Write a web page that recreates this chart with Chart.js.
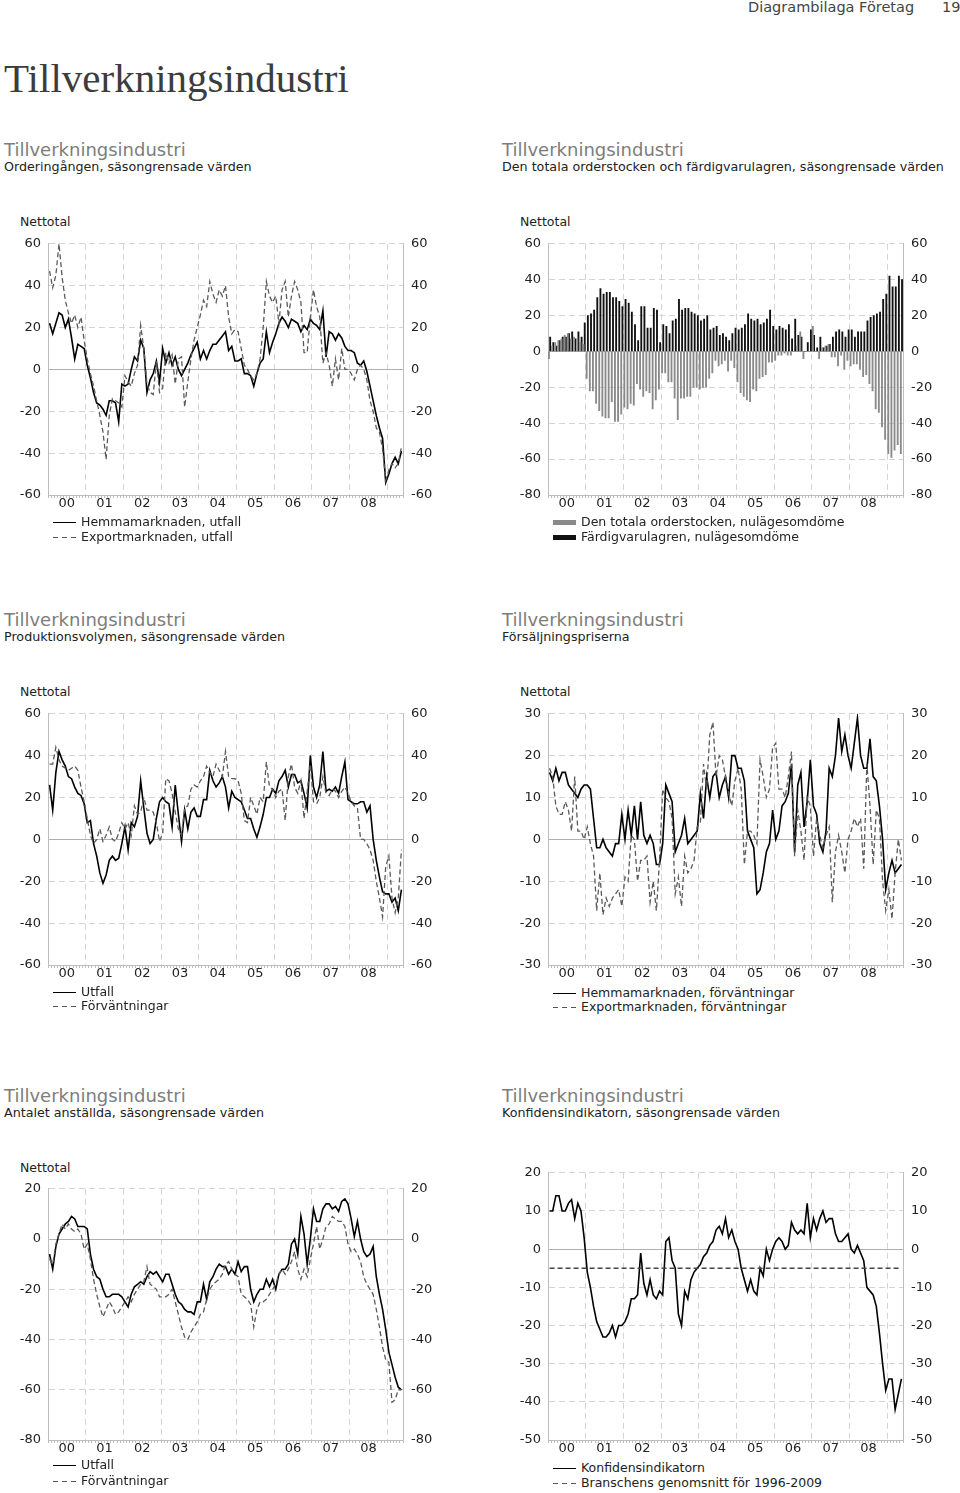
<!DOCTYPE html>
<html lang="sv">
<head>
<meta charset="utf-8">
<title>Tillverkningsindustri</title>
<script src="https://cdn.jsdelivr.net/npm/chart.js@4.4.1/dist/chart.umd.min.js"></script>
<style>
  body { margin: 0; background: #fff; font-family: 'DejaVu Sans', Verdana, sans-serif; color: #222; }
  .page { position: relative; width: 960px; height: 1493px; overflow: hidden; }
  .t { position: absolute; white-space: nowrap; line-height: 1; }
  .head { font-size: 14.5px; color: #444; }
  .title { font-family: 'Liberation Serif', 'Times New Roman', serif; font-size: 41px; color: #3c3c3c; }
  .sub { font-size: 18px; color: #7d7d7d; }
  .desc { font-size: 12.7px; color: #222; }
  .unit { font-size: 12.5px; color: #222; }
  canvas { position: absolute; }
  .leg { position: absolute; font-size: 12.5px; line-height: 1; white-space: nowrap; color: #222; }
  .leg i { display: inline-block; width: 23px; vertical-align: middle; margin-right: 5px; }
  .solid { height: 0; border-top: 1.6px solid #000; }
  .dash { height: 1.4px; background: repeating-linear-gradient(90deg, #555 0 5px, transparent 5px 9px); }
  .box-gray { height: 5px; background: #8a8a8a; }
  .box-black { height: 5px; background: #111; }
</style>
</head>
<body>
<div class="page">
  <div class="t head" style="left:748px; top:0px">Diagrambilaga Företag</div>
  <div class="t head" style="left:942px; top:0px">19</div>
  <div class="t title" style="left:4px; top:58px">Tillverkningsindustri</div>

  <!-- rad 1 -->
  <div class="t sub" style="left:4px; top:141px">Tillverkningsindustri</div>
  <div class="t desc" style="left:4px; top:161px">Orderingången, säsongrensade värden</div>
  <div class="t sub" style="left:502px; top:141px">Tillverkningsindustri</div>
  <div class="t desc" style="left:502px; top:161px">Den totala orderstocken och färdigvarulagren, säsongrensade värden</div>
  <div class="t unit" style="left:20px; top:216px">Nettotal</div>
  <div class="t unit" style="left:520px; top:216px">Nettotal</div>
  <canvas id="chart-order" width="460" height="287" style="left:0px; top:228px"></canvas>
  <canvas id="chart-lager" width="460" height="287" style="left:500px; top:228px"></canvas>
  <div class="leg" style="left:53px; top:516px"><i class="solid"></i>Hemmamarknaden, utfall</div>
  <div class="leg" style="left:53px; top:531px"><i class="dash"></i>Exportmarknaden, utfall</div>
  <div class="leg" style="left:553px; top:516px"><i class="box-gray"></i>Den totala orderstocken, nulägesomdöme</div>
  <div class="leg" style="left:553px; top:531px"><i class="box-black"></i>Färdigvarulagren, nulägesomdöme</div>

  <!-- rad 2 -->
  <div class="t sub" style="left:4px; top:611px">Tillverkningsindustri</div>
  <div class="t desc" style="left:4px; top:631px">Produktionsvolymen, säsongrensade värden</div>
  <div class="t sub" style="left:502px; top:611px">Tillverkningsindustri</div>
  <div class="t desc" style="left:502px; top:631px">Försäljningspriserna</div>
  <div class="t unit" style="left:20px; top:686px">Nettotal</div>
  <div class="t unit" style="left:520px; top:686px">Nettotal</div>
  <canvas id="chart-prod" width="460" height="287" style="left:0px; top:698px"></canvas>
  <canvas id="chart-pris" width="460" height="287" style="left:500px; top:698px"></canvas>
  <div class="leg" style="left:53px; top:986px"><i class="solid"></i>Utfall</div>
  <div class="leg" style="left:53px; top:1000px"><i class="dash"></i>Förväntningar</div>
  <div class="leg" style="left:553px; top:987px"><i class="solid"></i>Hemmamarknaden, förväntningar</div>
  <div class="leg" style="left:553px; top:1001px"><i class="dash"></i>Exportmarknaden, förväntningar</div>

  <!-- rad 3 -->
  <div class="t sub" style="left:4px; top:1087px">Tillverkningsindustri</div>
  <div class="t desc" style="left:4px; top:1107px">Antalet anställda, säsongrensade värden</div>
  <div class="t sub" style="left:502px; top:1087px">Tillverkningsindustri</div>
  <div class="t desc" style="left:502px; top:1107px">Konfidensindikatorn, säsongrensade värden</div>
  <div class="t unit" style="left:20px; top:1162px">Nettotal</div>
  <canvas id="chart-anst" width="460" height="287" style="left:0px; top:1173px"></canvas>
  <canvas id="chart-konf" width="460" height="303" style="left:500px; top:1157px"></canvas>
  <div class="leg" style="left:53px; top:1459px"><i class="solid"></i>Utfall</div>
  <div class="leg" style="left:53px; top:1475px"><i class="dash"></i>Förväntningar</div>
  <div class="leg" style="left:553px; top:1462px"><i class="solid"></i>Konfidensindikatorn</div>
  <div class="leg" style="left:553px; top:1477px"><i class="dash"></i>Branschens genomsnitt för 1996-2009</div>
</div>

<script>
// månadsdata jan 2000 - maj 2009
const yearLabels = ['00', '01', '02', '03', '04', '05', '06', '07', '08'];
const months = Array.from({ length: 113 }, (_, i) => i);

// Orderingången
const orderHemma = [
  22, 17, 22, 27, 26, 20, 24, 15, 5, 12, 11, 10,
  2, -4, -11, -16, -17, -19, -22, -15, -15, -16, -25, -7,
  -8, -7, 0, 6, 4, 14, 10, -11, -5, -2, 4, -6,
  10, 3, 8, 2, 6, 0, -3, 0, 3, 7, 10, 13,
  5, 9, 5, 9, 12, 12, 14, 16, 18, 9, 11, 4,
  4, 5, -2, -2, -3, -8, -2, 3, 5, 18, 8, 13,
  17, 22, 25, 23, 20, 24, 23, 22, 18, 21, 19, 24,
  22, 21, 19, 28, 6, 18, 17, 14, 17, 15, 11, 9,
  9, 8, 3, 2, 4, -1, -8, -15, -22, -28, -33, -54,
  -50, -45, -42, -45, -39,
];
const orderExport = [
  47, 39, 45, 60, 44, 33, 27, 22, 26, 20, 25, 14,
  5, -2, -8, -15, -22, -30, -43, -22, -14, -15, -16, -18,
  -3, -6, -8, -2, 2, 21, 10, -7, -11, -12, 4, -11,
  -9, 8, 3, 7, -7, 5, 6, -18, -6, 5, 14, 20,
  26, 33, 30, 42, 36, 32, 38, 35, 40, 25, 17, 19,
  18, 10, 2, 0, -3, -5, -2, 5, 20, 42, 35, 32,
  35, 22, 38, 42, 25, 35, 42, 38, 32, 8, 8, 25,
  38, 30, 25, 3, 8, 2, -8, 5, -5, 10, 0, 0,
  -2, -5, 0, 2, 0, -5, -15, -20, -28, -30, -38, -53,
  -48, -45, -47, -45, -37,
];

// Orderstock och färdigvarulager
const orderstocken = [
  -4, 3, 5, 6, 7, 9, 10, 7, 8, 7, 5, 4,
  -15, -22, -22, -29, -33, -36, -37, -37, -28, -39, -39, -35,
  -31, -32, -29, -30, -18, -21, -25, -22, -23, -32, -27, -21,
  -12, -12, -17, -17, -26, -38, -26, -26, -25, -25, -20, -20,
  -21, -20, -20, -15, -12, -5, -8, -7, -5, -11, -5, -9,
  -17, -23, -25, -27, -28, -21, -22, -15, -14, -13, -6, -6,
  -5, -2, -2, -1, -2, -2, 0, 3, 11, -4, 0, 0,
  14, 0, -4, 2, 3, 4, -3, -3, -8, -2, -10, -5,
  -8, -7, -7, -10, -14, -13, -18, -22, -32, -34, -42, -49,
  -57, -59, -55, -52, -57,
];
const fardigvarulager = [
  8, 5, 3, 6, 8, 8, 10, 11, 7, 11, 8, 16,
  20, 21, 23, 30, 35, 32, 33, 33, 30, 30, 28, 25,
  29, 27, 22, 15, 6, 25, 25, 13, 13, 24, 23, 5,
  15, 14, 10, 17, 18, 29, 23, 24, 24, 22, 21, 20,
  17, 18, 20, 12, 13, 14, 9, 10, 8, 6, 10, 13,
  12, 13, 15, 21, 18, 17, 18, 15, 16, 18, 23, 14,
  12, 14, 13, 12, 15, 7, 18, 9, 8, 0, 5, 12,
  9, 2, 8, 2, 3, 4, 8, 11, 12, 11, 8, 12,
  12, 8, 11, 11, 11, 17, 19, 20, 21, 22, 29, 32,
  42, 36, 36, 42, 40,
];

// Produktionsvolymen
const prodUtfall = [
  26, 14, 32, 42, 38, 35, 30, 29, 25, 22, 21, 17,
  8, 9, -2, -8, -16, -21, -17, -10, -8, -10, -9, -2,
  6, -5, 8, 6, 11, 28, 15, 3, -2, 0, 10, 18,
  20, 18, 17, 6, 26, 12, -1, 14, 5, 13, 15, 11,
  11, 19, 19, 33, 28, 25, 27, 30, 25, 15, 23, 20,
  19, 18, 14, 10, 10, 5, 1, 6, 12, 20, 20, 24,
  22, 28, 30, 33, 25, 31, 31, 27, 28, 22, 15, 40,
  25, 20, 26, 42, 23, 24, 23, 25, 22, 30, 37, 19,
  18, 17, 17, 18, 18, 13, 16, 0, -10, -18, -25, -26,
  -26, -30, -28, -34, -24,
];
const prodForv = [
  36, 36, 44, 38, 35, 34, 33, 34, 35, 33, 25, 18,
  10, 2, -2, 0, 5, -1, 2, 6, 0, -1, 3, 8,
  5, 8, 2, 16, 12, 13, 20, 14, 14, 13, 8, -1,
  3, 29, 28, 22, 13, 5, 2, 15, 16, 24, 26, 25,
  28, 30, 35, 32, 30, 36, 33, 30, 42, 30, 29, 29,
  28, 22, 9, 8, 20, 16, 12, 20, 18, 37, 25, 24,
  20, 23, 24, 9, 30, 36, 25, 22, 28, 10, 23, 36,
  18, 17, 20, 30, 22, 21, 24, 23, 20, 23, 25, 22,
  18, 16, 15, 0, 0, -2, -5, -10, -20, -28, -37, -13,
  -8, -28, -35, -28, -5,
];

// Försäljningspriserna
const prisHemma = [
  16, 14, 17, 14, 16, 16, 13, 12, 11, 10, 12, 13,
  13, 12, 5, -2, -2, 0, -2, -3, -4, -1, -1, 6,
  0, 7, 1, 8, 0, 9, 1, -1, 1, -1, -6, -6,
  -1, 13, 11, 9, -3, -1, 1, 5, -1, 0, 1, 2,
  11, 5, 15, 10, 15, 16, 10, 13, 15, 10, 20, 20,
  17, 17, 14, 2, 0, -2, -13, -12, -8, -3, -1, 7,
  0, 2, 8, 9, 11, 18, -3, 13, 16, 3, 9, 19,
  8, 6, -1, -3, 2, 17, 15, 20, 29, 21, 25, 20,
  17, 23, 29, 20, 17, 17, 24, 15, 14, 8, 0, -12,
  -8, -5, -8, -7, -6,
];
const prisExport = [
  17, 15, 8, 6, 6, 9, 7, 2, 15, 2, 2, 0,
  3, -1, -4, -17, -8, -18, -14, -16, -14, -13, -12, -16,
  -9, -10, 1, 0, -10, -5, -5, -4, -15, -10, -17, -5,
  12, 10, 9, 5, -13, -9, -16, -4, -8, -7, -5, 3,
  4, 18, 12, 25, 28, 15, 20, 19, 15, 11, 8, 14,
  17, 12, -6, 2, 2, 1, -1, 19, 15, 10, 12, 22,
  23, 12, 12, 10, 15, 21, -4, 7, 2, -5, 10, 8,
  -4, 5, 1, -2, 1, 3, -15, -3, 1, -3, -8, 0,
  2, 5, 3, 5, -7, 18, 8, -6, 7, 5, -10, -17,
  -12, -19, -8, 0, -5,
];

// Antalet anställda
const anstUtfall = [
  -6, -12, -3, 2, 4, 6, 7, 9, 8, 5, 5, 5,
  4, -6, -12, -15, -16, -20, -23, -23, -22, -22, -22, -23,
  -25, -27, -22, -19, -18, -17, -18, -15, -13, -14, -13, -15,
  -17, -14, -14, -18, -22, -25, -26, -28, -29, -29, -30, -25,
  -25, -18, -24, -17, -15, -12, -10, -11, -11, -14, -12, -14,
  -9, -13, -11, -11, -20, -25, -22, -20, -20, -16, -19, -16,
  -20, -14, -12, -12, -10, -2, 0, -6, 9, 2, -10, 0,
  12, 7, 7, 12, 14, 14, 12, 13, 11, 15, 16, 14,
  8, 1, 7, 0, -5, -7, -6, -3, -15, -22, -28, -36,
  -45, -50, -55, -59, -60,
];
const anstForv = [
  -8, -10, -2, 2, 6, 4, 6, 4, 3, 4, 2, -4,
  -2, -8, -16, -22, -27, -31, -28, -25, -27, -30, -29, -27,
  -25, -23, -25, -22, -20, -18, -17, -11, -18, -19, -20, -23,
  -23, -23, -22, -20, -25, -30, -35, -39, -40, -37, -35, -33,
  -30, -29, -24, -20, -18, -17, -16, -14, -10, -9, -12, -14,
  -15, -22, -23, -24, -26, -35, -28, -25, -25, -24, -22, -20,
  -18, -14, -12, -14, -12, -9, -5, -12, -16, -12, -15, -8,
  -2, 5, -4, 0, 5, 6, 9, 8, 7, 7, 5, -2,
  -5, -4, -6, -9, -15, -18, -20, -22, -28, -35, -43, -48,
  -49, -65, -64, -60, -60,
];

// Konfidensindikatorn
const konfidens = [
  10, 10, 14, 14, 10, 10, 12, 13, 8, 12, 10, 3,
  -6, -10, -15, -19, -21, -23, -23, -22, -20, -23, -20, -20,
  -19, -17, -13, -13, -12, -1, -9, -12, -8, -12, -13, -11,
  -12, 2, 3, -3, -5, -17, -20, -11, -13, -8, -6, -5,
  -4, -2, -1, 1, 2, 5, 6, 4, 8, 3, 5, 2,
  0, -5, -8, -11, -8, -11, -12, -5, -7, 0, -3, 0,
  2, 3, 2, 0, 1, 7, 5, 4, 5, 4, 12, 3,
  8, 5, 8, 10, 7, 8, 8, 4, 2, 2, 3, 4,
  0, -1, 1, -1, -3, -10, -11, -12, -15, -22, -30, -37,
  -34, -34, -42, -38, -34,
];
const branschensSnitt = -5;

const GRID = '#d4d4d4';
const AXIS = '#bdbdbd';
const ZERO = '#b0b0b0';

const toPoints = (values) => values.map((v, i) => ({ x: months[i] + 0.5, y: v }));

const xAxis = () => ({
  type: 'linear',
  min: 0,
  max: months.length,
  offset: false,
  afterBuildTicks: (scale) => {
    scale.ticks = months.concat(months.length).map((value) => ({ value }));
  },
  afterFit: (scale) => {
    scale.height = 20;
  },
  ticks: {
    autoSkip: false,
    maxRotation: 0,
    minRotation: 0,
    padding: -2,
    color: '#222',
    font: { family: 'DejaVu Sans', size: 13 },
    callback: (value) => (value % 12 === 6 ? yearLabels[(value - 6) / 12] : ''),
  },
  grid: {
    offset: false,
    color: (c) =>
      c.tick && c.tick.value % 12 === 0 && c.tick.value > 0 && c.tick.value < months.length
        ? GRID
        : 'rgba(0,0,0,0)',
    tickColor: AXIS,
    tickLength: 3,
  },
  border: { color: AXIS, dash: [6, 4] },
});

const yAxis = (min, max, step, side) => ({
  type: 'linear',
  position: side,
  min,
  max,
  afterFit: (scale) => {
    scale.width = side === 'left' ? 48 : 57;
  },
  ticks: {
    stepSize: step,
    color: '#222',
    font: { family: 'DejaVu Sans', size: 13 },
    padding: side === 'left' ? 7 : 8,
  },
  grid: {
    drawTicks: false,
    drawOnChartArea: side === 'left',
    color: (c) => (c.tick && c.tick.value === 0 ? ZERO : GRID),
  },
  border: { color: AXIS, dash: (c) => (c.tick && c.tick.value === 0 ? [] : [6, 4]) },
});

const chartOptions = (min, max, step) => ({
  responsive: false,
  animation: false,
  layout: { padding: { top: 10, left: 0, right: 0, bottom: 0 } },
  plugins: { legend: { display: false }, tooltip: { enabled: false } },
  scales: {
    x: xAxis(),
    y: yAxis(min, max, step, 'left'),
    y2: yAxis(min, max, step, 'right'),
  },
});

const solidLine = (label, values) => ({
  label,
  data: toPoints(values),
  borderColor: '#000',
  borderWidth: 1.6,
  pointRadius: 0,
  tension: 0,
});

const dashedLine = (label, values, color = '#5a5a5a') => ({
  label,
  data: toPoints(values),
  borderColor: color,
  borderWidth: 1.3,
  borderDash: [5, 3],
  pointRadius: 0,
  tension: 0,
});

const drawLineChart = (id, datasets, min, max, step) => {
  const ctx = document.getElementById(id).getContext('2d');
  new Chart(ctx, {
    type: 'line',
    data: { datasets },
    options: chartOptions(min, max, step),
  });
};

drawLineChart(
  'chart-order',
  [dashedLine('Exportmarknaden, utfall', orderExport), solidLine('Hemmamarknaden, utfall', orderHemma)],
  -60, 60, 20
);

new Chart(document.getElementById('chart-lager').getContext('2d'), {
  type: 'bar',
  data: {
    datasets: [
      {
        label: 'Den totala orderstocken, nulägesomdöme',
        data: toPoints(orderstocken),
        backgroundColor: '#8a8a8a',
        barThickness: 1.2,
      },
      {
        label: 'Färdigvarulagren, nulägesomdöme',
        data: toPoints(fardigvarulager),
        backgroundColor: '#111',
        barThickness: 1.2,
      },
    ],
  },
  options: chartOptions(-80, 60, 20),
});

drawLineChart(
  'chart-prod',
  [dashedLine('Förväntningar', prodForv), solidLine('Utfall', prodUtfall)],
  -60, 60, 20
);

drawLineChart(
  'chart-pris',
  [dashedLine('Exportmarknaden, förväntningar', prisExport), solidLine('Hemmamarknaden, förväntningar', prisHemma)],
  -30, 30, 10
);

drawLineChart(
  'chart-anst',
  [dashedLine('Förväntningar', anstForv), solidLine('Utfall', anstUtfall)],
  -80, 20, 20
);

drawLineChart(
  'chart-konf',
  [
    dashedLine('Branschens genomsnitt för 1996-2009', months.map(() => branschensSnitt), '#444'),
    solidLine('Konfidensindikatorn', konfidens),
  ],
  -50, 20, 10
);
</script>
</body>
</html>
